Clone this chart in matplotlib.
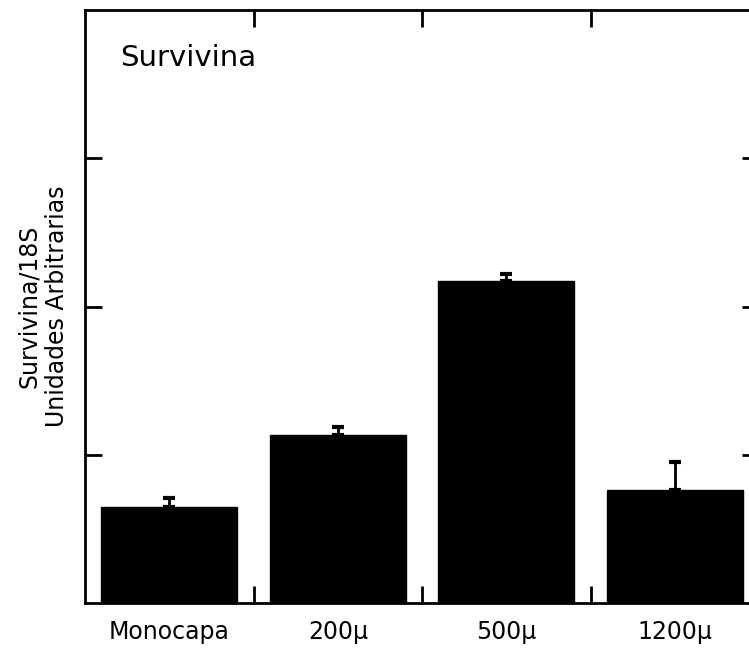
import matplotlib
matplotlib.use("Agg")
import matplotlib.pyplot as plt
import numpy as np

# datos
categorias = ["Monocapa", "200\u03bc", "500\u03bc", "1200\u03bc"]
valores = [0.65, 1.13, 2.17, 0.76]
errores = [0.06, 0.06, 0.05, 0.19]
ticks_y = [1, 2, 3]

plt.rcParams['font.family'] = ['DejaVu Sans']

fig = plt.figure(figsize=(7.49, 6.5), dpi=100)
# el eje derecho queda fuera de la imagen, como en el original
ax = fig.add_axes([85 / 749, 47 / 650, 674 / 749, 593 / 650])

x = np.arange(len(categorias))
ax.bar(x, valores, width=0.81, color='black', edgecolor='black', zorder=2)
ax.errorbar(x, valores, yerr=[np.zeros(len(errores)), errores], fmt='none',
            ecolor='black', elinewidth=2, capsize=4, capthick=3, zorder=1)

ax.set_xlim(-0.5, len(categorias) - 0.5)
ax.set_ylim(0, 4)

# ticks mayores vacios, menores entre barras
ax.set_xticks(x)
ax.set_xticklabels(categorias, fontsize=17)
ax.set_xticks(x[:-1] + 0.5, minor=True)
ax.tick_params(axis='x', which='major', length=0, pad=12)
ax.tick_params(axis='x', which='minor', direction='in', length=12, width=2,
               top=True, bottom=True)

ax.set_yticks(ticks_y)
ax.set_yticklabels([])
ax.tick_params(axis='y', which='major', direction='in', length=12, width=2,
               left=True, right=True)

for s in ax.spines.values():
    s.set_linewidth(2)

ax.set_ylabel("Survivina/18S\nUnidades Arbitrarias", fontsize=17,
              labelpad=8)
ax.text(0.052, 0.906, "Survivina", transform=ax.transAxes, fontsize=21,
        ha='left', va='baseline')

fig.savefig("out.png", dpi=100)
